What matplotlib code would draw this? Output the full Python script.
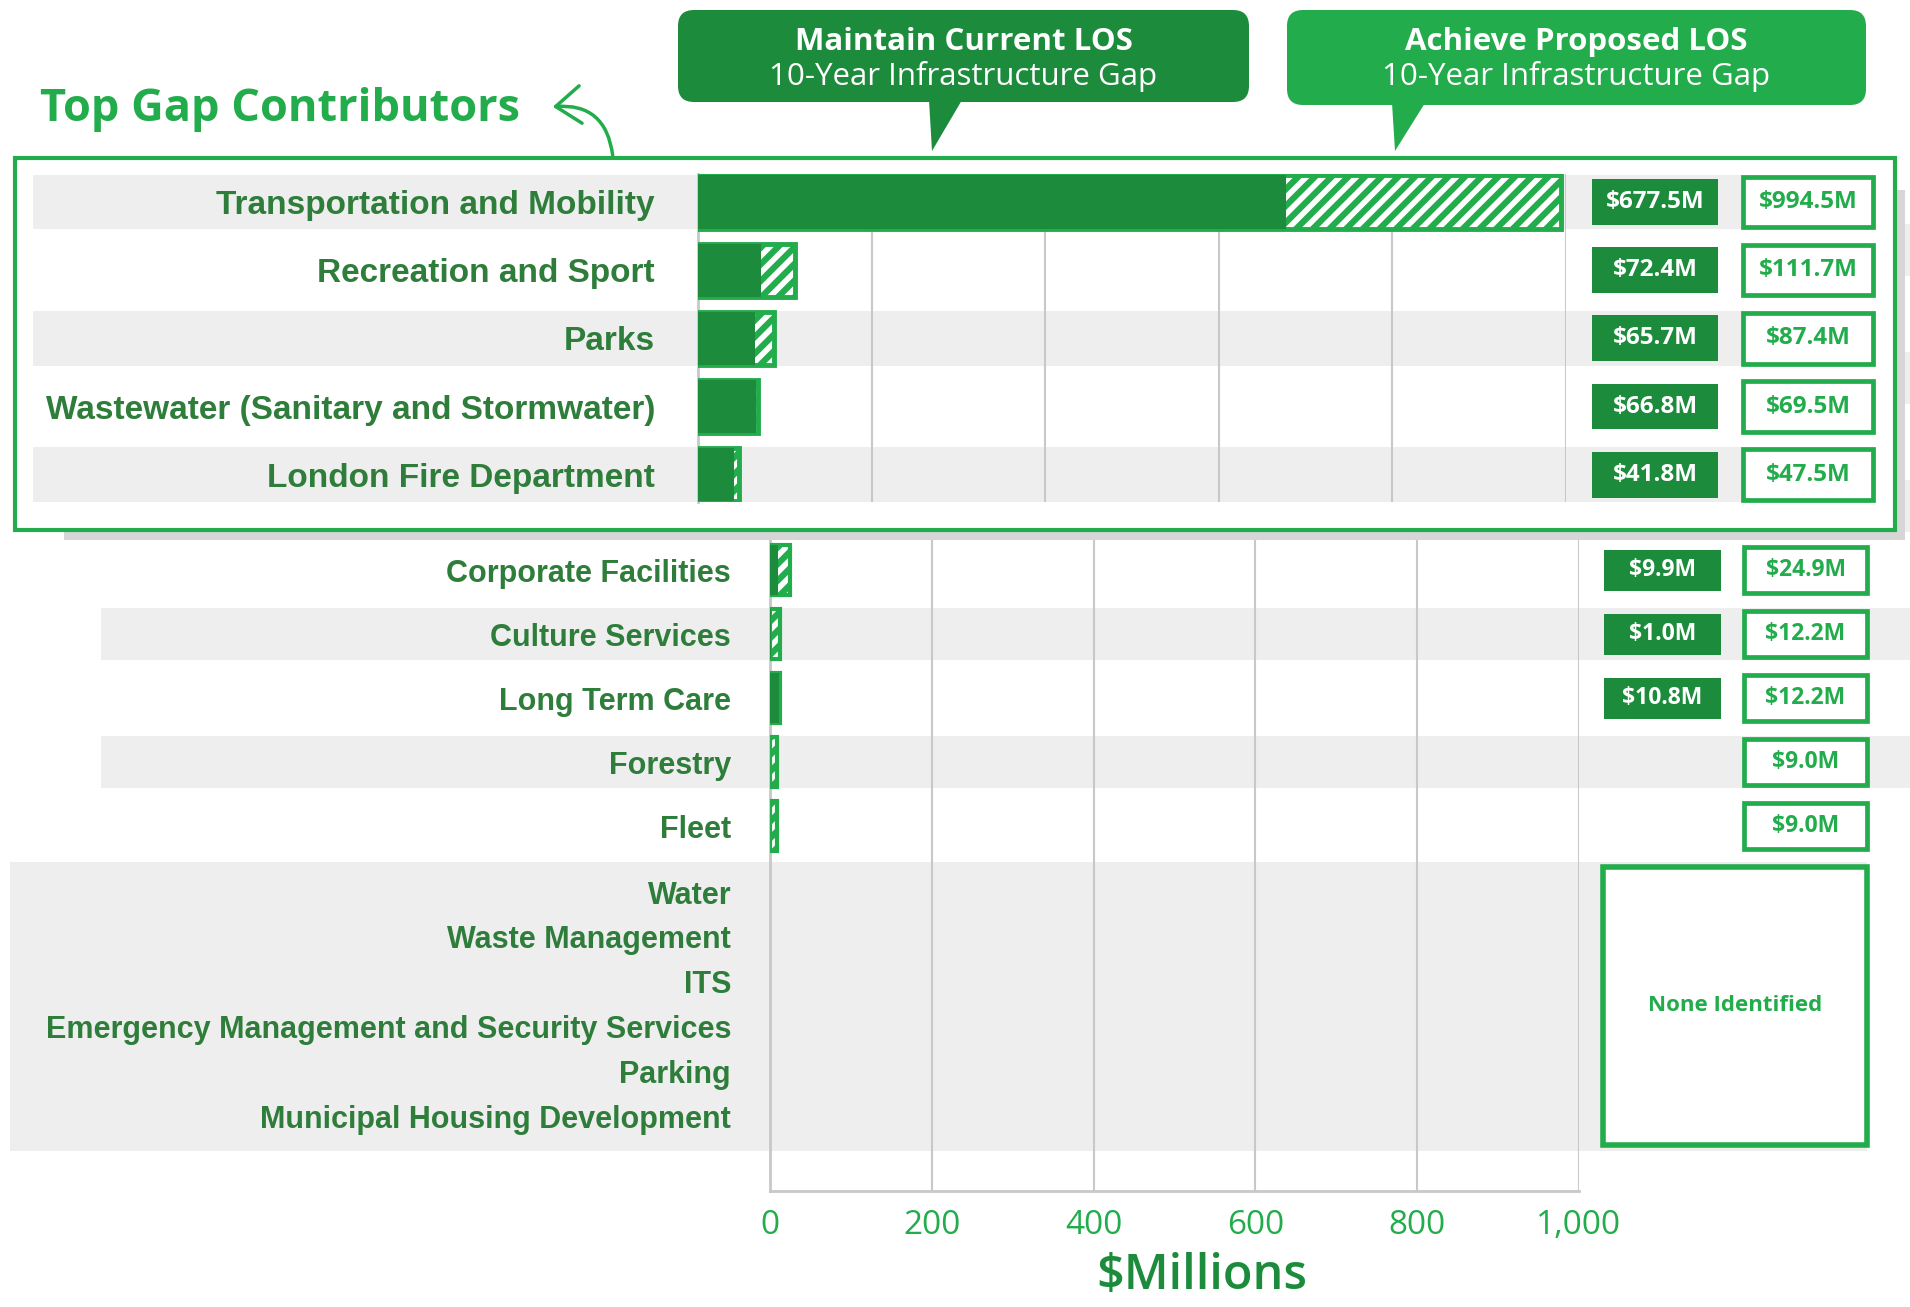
import numpy as np
import matplotlib
matplotlib.use('Agg')
import matplotlib.pyplot as plt
from matplotlib.patches import Rectangle, FancyBboxPatch, Polygon, FancyArrowPatch
from matplotlib import transforms

# ---------------- data ----------------
top_categories = ['Transportation and Mobility', 'Recreation and Sport', 'Parks',
                  'Wastewater (Sanitary and Stormwater)', 'London Fire Department']
top_current = [677.5, 72.4, 65.7, 66.8, 41.8]
top_proposed = [994.5, 111.7, 87.4, 69.5, 47.5]

other_categories = ['Corporate Facilities', 'Culture Services', 'Long Term Care',
                    'Forestry', 'Fleet']
other_current = [9.9, 1.0, 10.8, np.nan, np.nan]
other_proposed = [24.9, 12.2, 12.2, 9.0, 9.0]

none_identified = ['Water', 'Waste Management', 'ITS',
                   'Emergency Management and Security Services', 'Parking',
                   'Municipal Housing Development']

x_ticks = [0, 200, 400, 600, 800, 1000]
x_tick_labels = ['0', '200', '400', '600', '800', '1,000']

# ---------------- style ----------------
W, H = 1910, 1307
DARK = '#1c8c3c'
LIGHT = '#22ac4b'
TEXT = '#2e7d3a'
GRID = '#c8c8c8'
BAND = '#eeeeee'
LABEL_FONT = ['Liberation Sans', 'DejaVu Sans']
NUM_FONT = ['Open Sans', 'DejaVu Sans']

plt.rcParams['hatch.linewidth'] = 4.0
fig = plt.figure(figsize=(W / 100, H / 100), dpi=100)
fig.patch.set_facecolor('white')


def fig_rect(left, top, right, bottom):
    return [left / W, 1 - bottom / H, (right - left) / W, (bottom - top) / H]


def draw_bars(axis, rows, current, proposed, height, edge_lw):
    axis.barh(rows, proposed, height=height, color=LIGHT, edgecolor='white',
              hatch='//', lw=0, zorder=2)
    axis.barh(rows, proposed, height=height, fill=False, edgecolor=LIGHT,
              lw=edge_lw, zorder=3)
    axis.barh(rows, current, height=height, color=DARK, lw=0, zorder=4)


def draw_bands(axis, rows, x0, x1, height):
    tr = transforms.blended_transform_factory(fig.transFigure, axis.transData)
    for y in rows:
        axis.add_patch(Rectangle((x0 / W, y - height / 2), (x1 - x0) / W, height,
                                 transform=tr, facecolor=BAND, lw=0,
                                 clip_on=False, zorder=0.1))


def value_boxes(axis, rows, current, proposed, dark_x, white_x, dark_h, white_h, fs):
    tr = transforms.blended_transform_factory(fig.transFigure, axis.transData)
    for y, c, p in zip(rows, current, proposed):
        if not np.isnan(c):
            axis.add_patch(Rectangle((dark_x[0] / W, y - dark_h / 2),
                                     (dark_x[1] - dark_x[0]) / W, dark_h,
                                     transform=tr, facecolor=DARK, lw=0,
                                     clip_on=False, zorder=5))
            axis.text((dark_x[0] + dark_x[1]) / 2 / W, y, f'${c:.1f}M',
                      transform=tr, ha='center', va='center', color='white',
                      fontsize=fs, fontweight='bold', family=NUM_FONT,
                      clip_on=False, zorder=6)
        axis.add_patch(Rectangle((white_x[0] / W, y - white_h / 2),
                                 (white_x[1] - white_x[0]) / W, white_h,
                                 transform=tr, facecolor='white', edgecolor=LIGHT,
                                 lw=3.4, clip_on=False, zorder=5))
        axis.text((white_x[0] + white_x[1]) / 2 / W, y, f'${p:.1f}M',
                  transform=tr, ha='center', va='center', color=LIGHT,
                  fontsize=fs, fontweight='bold', family=NUM_FONT,
                  clip_on=False, zorder=6)


# ---------------- main chart ----------------
ax = fig.add_axes(fig_rect(770, 200, 1579, 1191), zorder=1)
ax.set_facecolor('none')
main_categories = top_categories + other_categories
main_current = top_current + other_current
main_proposed = top_proposed + other_proposed
rows = np.arange(len(main_categories))
group_rows = 10.03 + 0.70 * np.arange(len(none_identified))

ax.set_xlim(0, 1000)
ax.set_ylim(14.70, -0.78)

draw_bands(ax, rows[::2], 101, 1910, 0.82)
tr_main = transforms.blended_transform_factory(fig.transFigure, ax.transData)
ax.add_patch(Rectangle((10 / W, 9.56), (1867 - 10) / W, 14.08 - 9.56,
                       transform=tr_main, facecolor=BAND, lw=0, clip_on=False,
                       zorder=0.1))
draw_bars(ax, rows, main_current, main_proposed, 0.78, 3)
value_boxes(ax, rows, main_current, main_proposed, (1604, 1721), (1744, 1867),
            0.64, 0.72, 16.5)

# none identified box
ax.add_patch(Rectangle((1603 / W, 9.64), (1867 - 1603) / W, 13.98 - 9.64,
                       transform=tr_main, facecolor='white', edgecolor=LIGHT,
                       lw=4, clip_on=False, zorder=5))
ax.text((1603 + 1867) / 2 / W, (9.64 + 13.98) / 2, 'None Identified',
        transform=tr_main, ha='center', va='center', color=LIGHT, fontsize=16,
        fontweight='bold', family=NUM_FONT, clip_on=False, zorder=6)

ax.set_xticks(x_ticks, x_tick_labels)
ax.set_yticks(list(rows) + list(group_rows), main_categories + none_identified)
ax.tick_params(axis='x', length=0, pad=13, labelsize=24, labelcolor=LIGHT)
ax.tick_params(axis='y', length=0, pad=28, labelsize=22, labelcolor=TEXT)
for i, lbl in enumerate(ax.get_yticklabels()):
    lbl.set_fontfamily(LABEL_FONT)
    lbl.set_fontweight('bold')
    if i < len(top_categories):
        # these rows sit beneath the "Top Gap Contributors" inset
        lbl.set_visible(False)
for lbl in ax.get_xticklabels():
    lbl.set_fontfamily(NUM_FONT)
ax.grid(axis='x', color=GRID, lw=1.5)
ax.grid(axis='y', visible=False)
ax.set_axisbelow(True)
for s in ['top', 'right']:
    ax.spines[s].set_visible(False)
for s in ['left', 'bottom']:
    ax.spines[s].set_color(GRID)
    ax.spines[s].set_linewidth(2)

# ---------------- overlay (inset frame, callouts, titles) ----------------
ov = fig.add_axes([0, 0, 1, 1], zorder=2)
ov.set_xlim(0, W)
ov.set_ylim(H, 0)
ov.axis('off')
ov.set_facecolor('none')

ov.add_patch(Rectangle((64, 190), 1905 - 64, 540 - 190, facecolor='#d6d6d6', lw=0))
ov.add_patch(Rectangle((15, 158), 1880, 372, facecolor='white', edgecolor=LIGHT, lw=3))

callouts = [
    (678, 1249, 10, 102, DARK, (929, 962, 932, 151), 'Maintain Current LOS'),
    (1287, 1866, 10, 105, LIGHT, (1392, 1425, 1395, 151), 'Achieve Proposed LOS'),
]
for x0, x1, y0, y1, col, ptr, title in callouts:
    ov.add_patch(FancyBboxPatch((x0, y0), x1 - x0, y1 - y0,
                                boxstyle='round,pad=0,rounding_size=16',
                                facecolor=col, lw=0))
    ov.add_patch(Polygon([(ptr[0], y1 - 2), (ptr[1], y1 - 2), (ptr[2], ptr[3])],
                         closed=True, facecolor=col, lw=0))
    cx = (x0 + x1) / 2
    ov.text(cx, 42, title, ha='center', va='center', color='white', fontsize=22.5,
            fontweight='bold', family=NUM_FONT)
    ov.text(cx, 77, '10-Year Infrastructure Gap', ha='center', va='center',
            color='white', fontsize=22.5, family=NUM_FONT)

ov.text(40, 110, 'Top Gap Contributors', ha='left', va='center', color=LIGHT,
        fontsize=32.5, fontweight='bold', family=NUM_FONT)
ov.add_patch(FancyArrowPatch((613, 158), (550, 107),
                             connectionstyle='arc3,rad=0.5',
                             arrowstyle='->,head_length=0.6,head_width=0.45',
                             mutation_scale=30, color=LIGHT, lw=2.5))
ov.text(1202, 1276, '$Millions', ha='center', va='center', color=DARK,
        fontsize=35, fontweight='semibold', family=NUM_FONT)

# ---------------- inset (top gap contributors) ----------------
ai = fig.add_axes(fig_rect(698, 174, 1566, 502), zorder=3)
ai.set_facecolor('none')
in_rows = np.arange(len(top_categories))
ai.set_xlim(0, 1000)
ai.set_ylim(4.40, -0.41)
draw_bands(ai, in_rows[::2], 33, 1875, 0.80)
draw_bars(ai, in_rows, top_current, top_proposed, 0.78, 3.5)
value_boxes(ai, in_rows, top_current, top_proposed, (1592, 1718), (1743, 1873),
            0.67, 0.74, 17.5)
ai.set_xticks(x_ticks, [])
ai.set_yticks(in_rows, top_categories)
ai.tick_params(axis='x', length=0)
ai.tick_params(axis='y', length=0, pad=31, labelsize=24, labelcolor=TEXT)
for lbl in ai.get_yticklabels():
    lbl.set_fontfamily(LABEL_FONT)
    lbl.set_fontweight('bold')
ai.grid(axis='x', color=GRID, lw=1.5)
ai.set_axisbelow(True)
for s in ['top', 'right', 'bottom']:
    ai.spines[s].set_visible(False)
ai.spines['left'].set_color(GRID)
ai.spines['left'].set_linewidth(2)

fig.savefig('out.png', dpi=100, facecolor='white')
